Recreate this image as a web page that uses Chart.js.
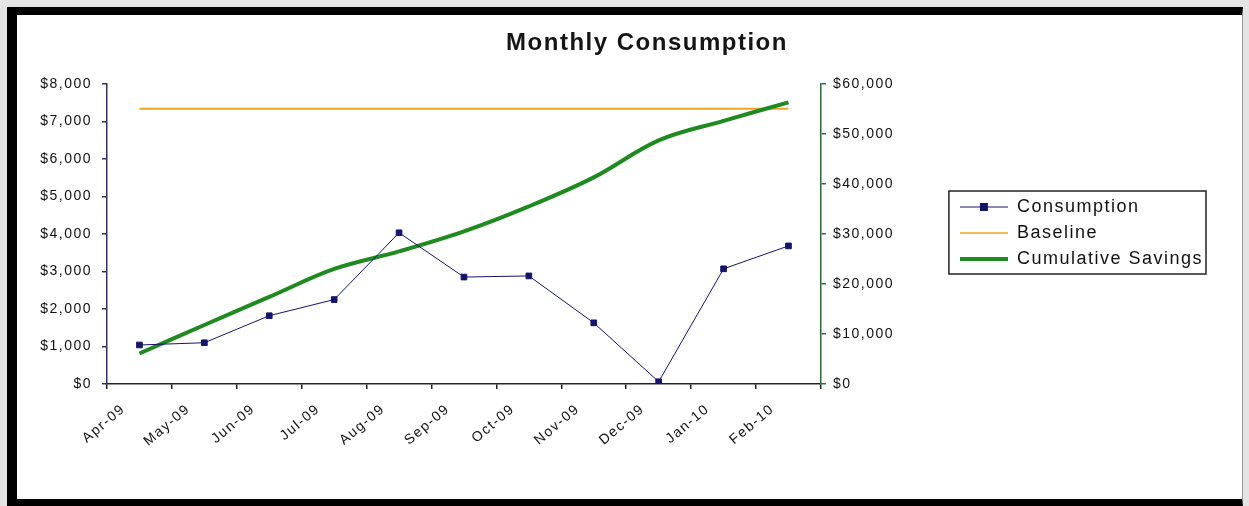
<!DOCTYPE html>
<html>
<head>
<meta charset="utf-8">
<script src="https://cdn.jsdelivr.net/npm/chart.js@4/dist/chart.umd.min.js"></script>
<style>
  body { margin: 0; background: #e4e4e4; }
  #frame {
    position: absolute; left: 7px; top: 7px;
    width: 1225px; height: 484px;
    background: #fff;
    border-top: 8px solid #000;
    border-left: 10px solid #000;
    border-bottom: 8px solid #000;
    border-right: 1px solid #999;
  }
  canvas { display: block; }
</style>
</head>
<body>
<div id="frame"><canvas id="chart" width="1225" height="484"></canvas></div>
<script>
// data
const months = ['Apr-09', 'May-09', 'Jun-09', 'Jul-09', 'Aug-09', 'Sep-09', 'Oct-09', 'Nov-09', 'Dec-09', 'Jan-10', 'Feb-10'];
const consumption = [1040, 1100, 1820, 2250, 4030, 2850, 2880, 1630, 60, 3070, 3680];
const baseline = [55000, 55000, 55000, 55000, 55000, 55000, 55000, 55000, 55000, 55000, 55000];
const savings = [6100, 11800, 17400, 23000, 26500, 30500, 35500, 41300, 48700, 52600, 56300];

const leftTicks = { min: 0, max: 8000, step: 1000 };
const rightTicks = { min: 0, max: 60000, step: 10000 };

const FONT = '"Liberation Sans", Arial, sans-serif';
const NAVY = '#14146a';
const ORANGE = '#f0a52a';
const GREEN = '#1f8a1f';

const money = v => '$' + Number(v).toLocaleString('en-US');

// small legend swatches: line with optional square marker
function legendIcon(color, width, marker) {
    const c = document.createElement('canvas');
    c.width = 48;
    c.height = 12;
    const g = c.getContext('2d');
    g.strokeStyle = color;
    g.lineWidth = width;
    g.beginPath();
    g.moveTo(0, 6);
    g.lineTo(48, 6);
    g.stroke();
    if (marker) {
        g.fillStyle = color;
        g.fillRect(20, 2, 8, 8);
    }
    return c;
}
const icons = [legendIcon(NAVY, 1, true), legendIcon(ORANGE, 1.5, false), legendIcon(GREEN, 4, false)];

// the old picture has wide letter spacing everywhere
const spacing = {
    id: 'spacing',
    beforeLayout(c) { c.ctx.letterSpacing = '1.5px'; },
    beforeDraw(c) { c.ctx.letterSpacing = '1.5px'; }
};

// title sits a bit right of the canvas centre, legend a bit higher
const nudge = {
    id: 'nudge',
    afterLayout(c) {
        const t = c.titleBlock;
        if (t) {
            const dx = 630 - (t.left + t.right) / 2;
            t.left += dx;
            t.right += dx;
        }
        const lg = c.legend;
        if (lg) {
            lg.top -= 24;
            lg.bottom -= 24;
        }
    }
};

// frame round the legend
const legendBox = {
    id: 'legendBox',
    afterDraw(c) {
        const hb = c.legend && c.legend.legendHitBoxes;
        if (!hb || !hb.length) return;
        const l = Math.min(...hb.map(h => h.left));
        const r = Math.max(...hb.map(h => h.left + h.width));
        const t = Math.min(...hb.map(h => h.top));
        const b = Math.max(...hb.map(h => h.top + h.height));
        const ctx = c.ctx;
        ctx.save();
        ctx.strokeStyle = '#222';
        ctx.lineWidth = 1.5;
        ctx.strokeRect(l - 11, t - 7, r - l + 14, b - t + 13);
        ctx.restore();
    }
};

new Chart(document.getElementById('chart'), {
    type: 'line',
    data: {
        labels: months,
        datasets: [{
            label: 'Consumption',
            data: consumption,
            yAxisID: 'y',
            borderColor: NAVY,
            borderWidth: 1,
            backgroundColor: NAVY,
            pointStyle: 'rect',
            pointRadius: 4,
            pointBackgroundColor: NAVY,
            pointBorderColor: NAVY,
            tension: 0,
            order: 0
        }, {
            label: 'Baseline',
            data: baseline,
            yAxisID: 'y1',
            borderColor: ORANGE,
            borderWidth: 2,
            pointRadius: 0,
            tension: 0,
            order: 2
        }, {
            label: 'Cumulative Savings',
            data: savings,
            yAxisID: 'y1',
            borderColor: GREEN,
            borderWidth: 4,
            pointRadius: 0,
            tension: 0.35,
            order: 1
        }]
    },
    options: {
        responsive: false,
        devicePixelRatio: 1,
        animation: false,
        layout: { padding: { left: 0, right: 29, top: 0, bottom: 0 } },
        plugins: {
            tooltip: { enabled: false },
            title: {
                display: true,
                text: 'Monthly Consumption',
                color: '#151515',
                font: { family: FONT, size: 24, weight: 'bold' },
                padding: { top: 14, bottom: 26 }
            },
            legend: {
                position: 'right',
                align: 'center',
                maxWidth: 400,
                labels: {
                    color: '#111',
                    font: { family: FONT, size: 18 },
                    padding: 8,
                    usePointStyle: true,
                    pointStyleWidth: 48,
                    generateLabels: chart => chart.data.datasets.map((ds, i) => ({
                        text: ds.label,
                        pointStyle: icons[i],
                        fontColor: '#111',
                        datasetIndex: i,
                        hidden: false
                    }))
                }
            }
        },
        scales: {
            x: {
                type: 'category',
                offset: true,
                grid: { display: true, drawOnChartArea: false, offset: true, tickLength: 5, color: '#222', lineWidth: 1.5 },
                border: { color: '#222', width: 1.5 },
                ticks: {
                    color: '#111',
                    font: { family: FONT, size: 14 },
                    minRotation: 40,
                    maxRotation: 40,
                    autoSkip: false,
                    labelOffset: -16,
                    padding: 12
                },
                afterFit: s => { s.height = 115; }
            },
            y: {
                position: 'left',
                min: leftTicks.min,
                max: leftTicks.max,
                grid: { drawOnChartArea: false, tickLength: 5, color: '#33335e', lineWidth: 1.5 },
                border: { color: '#33335e', width: 1.5 },
                ticks: {
                    stepSize: leftTicks.step,
                    color: '#111',
                    font: { family: FONT, size: 14 },
                    padding: 10,
                    callback: money
                },
                afterFit: s => { s.width = 90; }
            },
            y1: {
                position: 'right',
                min: rightTicks.min,
                max: rightTicks.max,
                grid: { drawOnChartArea: false, tickLength: 5, color: '#2e6b34', lineWidth: 1.5 },
                border: { color: '#2e6b34', width: 1.5 },
                ticks: {
                    stepSize: rightTicks.step,
                    color: '#111',
                    font: { family: FONT, size: 14 },
                    padding: 7,
                    callback: money
                },
                afterFit: s => { s.width = 131; }
            }
        }
    },
    plugins: [spacing, nudge, legendBox]
});
</script>
</body>
</html>
